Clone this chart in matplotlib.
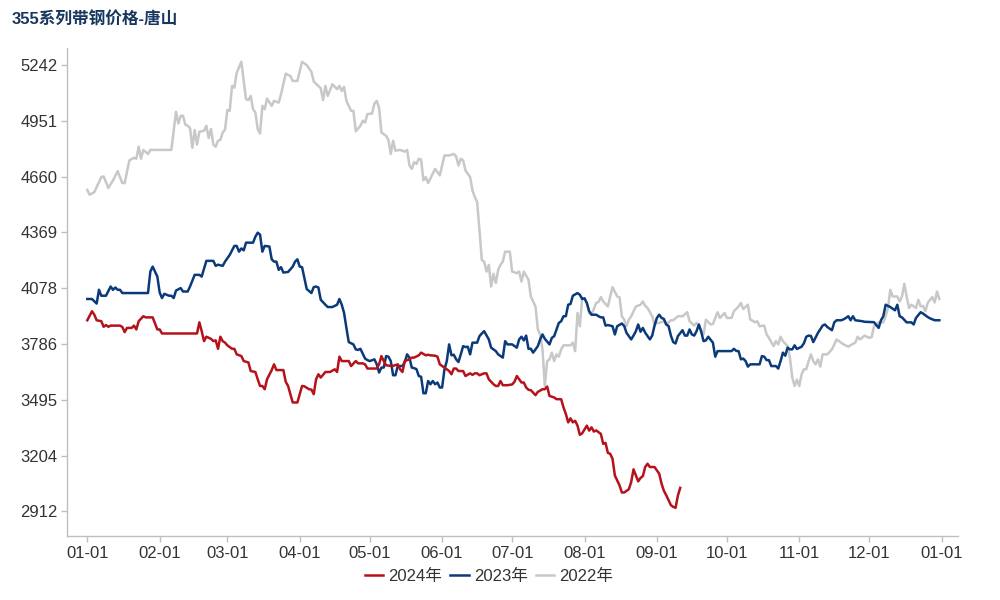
import matplotlib
matplotlib.use("Agg")
import matplotlib.pyplot as plt
import pandas as pd

plt.rcParams['font.family'] = ['Liberation Sans', 'Noto Sans CJK SC', 'DejaVu Sans']

title = "355系列带钢价格-唐山"
series_names = ["2024年", "2023年", "2022年"]
colors = {"2024年": "#B5121B", "2023年": "#0B3A7B", "2022年": "#C8C8C8"}

# x = day offset from 01-01 (calendar of a leap year axis), y = price
days_2024 = [0, 2, 3, 4, 6, 7, 8, 9, 10, 14, 15, 16, 17, 19, 20, 21, 22, 24, 25, 28, 29, 30, 31, 32,
             47, 48, 49, 50, 51, 53, 54, 55, 56, 57, 58, 59, 60, 62, 63, 64, 66, 67, 69, 70, 72, 73,
             74, 75, 76, 77, 79, 80, 81, 84, 85, 86, 88, 90, 92, 93, 95, 96, 97, 98, 99, 100, 102,
             103, 104, 106, 107, 108, 109, 110, 112, 113, 115, 116, 118, 119, 120, 124, 125, 126,
             127, 128, 130, 131, 133, 134, 135, 136, 138, 139, 140, 142, 143, 145, 146, 147, 149,
             150, 151, 153, 154, 155, 156, 157, 158, 159, 161, 162, 164, 165, 166, 167, 168, 170,
             171, 172, 174, 175, 176, 177, 178, 180, 182, 183, 184, 185, 186, 187, 188, 189, 190,
             192, 193, 195, 196, 197, 198, 200, 201, 203, 204, 205, 206, 207, 208, 209, 210, 211,
             212, 214, 215, 216, 217, 218, 220, 221, 222, 223, 224, 225, 226, 228, 229, 230, 232,
             233, 234, 235, 236, 237, 238, 239, 240, 241, 243, 244, 245, 246, 247, 248, 249, 250,
             251, 252, 253, 254]
vals_2024 = [3910, 3957, 3939, 3910, 3905, 3876, 3885, 3876, 3882, 3882, 3875, 3848, 3870, 3870, 3882,
             3862, 3905, 3931, 3925, 3925, 3893, 3862, 3862, 3841,
             3841, 3899, 3853, 3801, 3824, 3813, 3801, 3805, 3761, 3824, 3801, 3793, 3779, 3761, 3761,
             3732, 3723, 3697, 3690, 3645, 3640, 3602,
             3567, 3567, 3550, 3602, 3650, 3680, 3650, 3650, 3589, 3567, 3481, 3481, 3567, 3565, 3550,
             3548, 3524, 3602, 3628, 3611, 3640,
             3640, 3640, 3654, 3640, 3720, 3697, 3697, 3697, 3671, 3697, 3685, 3685, 3680, 3658, 3658,
             3680, 3723,
             3697, 3675, 3672, 3672, 3680, 3654, 3640, 3697, 3706, 3715, 3715, 3727, 3741, 3727, 3730,
             3727, 3725,
             3720, 3680, 3663, 3654, 3645, 3628, 3658, 3658, 3645, 3645, 3619, 3633, 3625, 3633, 3633,
             3623, 3633,
             3633, 3602, 3576, 3567, 3567, 3593, 3571, 3571, 3575, 3589, 3619, 3602, 3585, 3585, 3559,
             3547, 3545,
             3519, 3536, 3550, 3550, 3564, 3515, 3507, 3498, 3498, 3455, 3421, 3377, 3398, 3377, 3385,
             3360, 3312,
             3320, 3360, 3334, 3351, 3329, 3335, 3317, 3265, 3270, 3218, 3213, 3187, 3100, 3048, 3011,
             3011, 3028,
             3066, 3132, 3100, 3069, 3087, 3097, 3144, 3161, 3144, 3144, 3126, 3109, 3057, 3020, 2997,
             2971, 2945,
             2936, 2931, 2995, 3035]

days_2023 = [0, 2, 4, 5, 6, 8, 10, 11, 12, 13, 14, 15, 26, 27, 28, 30, 31, 32, 33, 35, 36, 37, 38, 40,
             41, 43, 44, 46, 48, 49, 51, 54, 55, 56, 58, 59, 61, 63, 64, 65, 66, 67, 68, 71, 72, 73,
             74, 75, 76, 78, 79, 80, 81, 82, 83, 84, 86, 88, 89, 90, 91, 92, 94, 96, 97, 98, 99, 100,
             102, 103, 105, 107, 108, 109, 110, 111, 112, 114, 115, 116, 117, 119, 120, 121, 123,
             124, 125, 126, 127, 128, 129, 130, 131, 132, 133, 135, 136, 137, 138, 139, 140, 141,
             142, 143, 144, 145, 146, 147, 148, 149, 150, 151, 152, 153, 154, 155, 156, 157, 158,
             159, 160, 161, 162, 163, 164, 165, 167, 168, 169, 170, 172, 173, 175, 176, 178, 179,
             180, 182, 184, 185, 186, 187, 188, 189, 190, 191, 193, 194, 195, 196, 198, 199, 200,
             202, 203, 204, 205, 206, 207, 208, 210, 211, 212, 213, 214, 215, 216, 218, 219, 220,
             221, 222, 223, 225, 226, 227, 229, 230, 231, 233, 234, 235, 236, 237, 238, 239, 240,
             241, 242, 243, 244, 245, 246, 247, 248, 249, 250, 251, 252, 253, 255, 256, 257, 258,
             259, 260, 261, 262, 263, 264, 265, 266, 268, 269, 270, 276, 277, 278, 279, 280, 281,
             282, 283, 284, 288, 289, 290, 291, 292, 293, 295, 296, 297, 298, 299, 300, 301, 302,
             303, 304, 306, 307, 308, 309, 310, 311, 313, 315, 316, 317, 319, 320, 321, 323, 324,
             325, 326, 327, 328, 329, 332, 333, 337, 339, 340, 341, 342, 344, 346, 347, 348, 349,
             351, 353, 354, 355, 357, 358, 360, 361, 362, 363, 365]
vals_2023 = [4021, 4021, 3997, 4069, 4038, 4038, 4086, 4069, 4081, 4069, 4069, 4052, 4052, 4164, 4190,
             4138, 4055, 4026, 4048, 4038, 4038, 4026, 4065, 4078,
             4060, 4060, 4086, 4147, 4147, 4138, 4220, 4220, 4194, 4200, 4194, 4216, 4251, 4298, 4298,
             4268, 4285, 4275, 4315, 4315, 4346, 4367,
             4357, 4268, 4298, 4295, 4228, 4216, 4216, 4173, 4187, 4159, 4162, 4190, 4216, 4228, 4190,
             4187, 4073, 4052, 4083, 4086, 4081, 4017,
             3991, 3979, 3979, 3991, 4021, 3991, 3948, 3870, 3796, 3784, 3758, 3755, 3761, 3710, 3702,
             3697, 3706,
             3680, 3637, 3663, 3663, 3723, 3720, 3697, 3623, 3623, 3671, 3671, 3692, 3732, 3715, 3663,
             3660, 3655,
             3619, 3615, 3529, 3529, 3593, 3576, 3593, 3576, 3585, 3559, 3559, 3654, 3697, 3784, 3727,
             3730, 3706,
             3692, 3732, 3775, 3770, 3772, 3732, 3793, 3793, 3827, 3841, 3853, 3810, 3767, 3749, 3732,
             3715, 3801,
             3784, 3784, 3767, 3810, 3824, 3805, 3830, 3761, 3761, 3741, 3775, 3810, 3836, 3813, 3784,
             3818, 3827,
             3896, 3905, 3931, 3931, 3991, 3995, 4038, 4052, 4043, 4021, 4025, 4000, 3957, 3939, 3939,
             3931, 3925,
             3925, 3882, 3885, 3879, 3836, 3879, 3893, 3880, 3844, 3810, 3830, 3853, 3888, 3850, 3870,
             3845, 3827,
             3810, 3830, 3882, 3922, 3939, 3922, 3917, 3888, 3880, 3830, 3796, 3789, 3827, 3858, 3830,
             3830, 3862,
             3836, 3830, 3853, 3888, 3850, 3801, 3805, 3824, 3793, 3720, 3749, 3749, 3761, 3750, 3749,
             3706, 3710,
             3697, 3668, 3680, 3680, 3723, 3720, 3702, 3702, 3671, 3671, 3658, 3697, 3741, 3725, 3767,
             3758, 3758,
             3779, 3760, 3772, 3790, 3824, 3830, 3828, 3796, 3844, 3882, 3888, 3875, 3858, 3899, 3910,
             3910, 3915,
             3922, 3931, 3910, 3931, 3910, 3905, 3902, 3900, 3870, 3910, 3931, 3991, 3979, 3962, 3991,
             3931, 3925,
             3899, 3899, 3888, 3922, 3952, 3945, 3927, 3920, 3915, 3910, 3910]

days_2022 = [0, 1, 3, 6, 7, 9, 11, 13, 15, 16, 18, 20, 21, 22, 23, 24, 26, 27, 36, 38, 39, 40, 41, 42,
             43, 44, 45, 46, 47, 48, 50, 51, 52, 53, 54, 55, 56, 57, 58, 59, 60, 61, 62, 63, 64, 66,
             67, 68, 69, 70, 71, 72, 73, 74, 75, 76, 77, 79, 80, 82, 83, 85, 87, 88, 90, 92, 94, 96,
             97, 100, 101, 102, 103, 105, 107, 108, 109, 110, 111, 113, 114, 115, 117, 118, 119, 120,
             122, 123, 124, 125, 126, 128, 129, 130, 131, 132, 134, 136, 137, 138, 139, 140, 141,
             142, 143, 144, 145, 146, 148, 149, 150, 151, 152, 153, 155, 157, 158, 159, 160, 161,
             162, 164, 165, 166, 167, 168, 169, 170, 171, 172, 173, 174, 175, 176, 177, 178, 179,
             181, 182, 184, 185, 186, 187, 189, 190, 192, 193, 194, 195, 196, 197, 198, 199, 200,
             201, 202, 203, 204, 207, 208, 209, 210, 211, 212, 213, 214, 215, 216, 218, 219, 220,
             221, 223, 224, 225, 227, 228, 229, 230, 231, 232, 233, 234, 235, 237, 238, 239, 240,
             242, 243, 244, 245, 247, 248, 250, 251, 253, 255, 257, 258, 260, 261, 262, 264, 265,
             267, 268, 270, 271, 273, 274, 276, 277, 279, 280, 281, 283, 284, 285, 286, 287, 288,
             290, 291, 292, 294, 295, 296, 297, 298, 300, 301, 302, 303, 304, 305, 306, 307, 308,
             309, 310, 311, 312, 313, 314, 315, 317, 319, 321, 322, 324, 326, 327, 329, 330, 331,
             333, 335, 336, 337, 339, 341, 342, 343, 344, 345, 347, 348, 349, 350, 351, 352, 353,
             355, 356, 357, 358, 359, 360, 362, 363, 364, 365]
vals_2022 = [4590, 4565, 4579, 4657, 4661, 4600, 4640, 4688, 4626, 4626, 4744, 4758, 4753, 4816, 4753,
             4799, 4778, 4799, 4799, 4998, 4937, 4977, 4977, 4931,
             4925, 4913, 4810, 4903, 4827, 4894, 4899, 4925, 4861, 4908, 4827, 4816, 4847, 4851, 4890,
             4905, 5007, 5003, 5133, 5124, 5202, 5259,
             5159, 5064, 5059, 5081, 5012, 4994, 4908, 4885, 5029, 5012, 5067, 5029, 5055, 5046, 5090,
             5197, 5185, 5159, 5159, 5259, 5242, 5207,
             5156, 5121, 5059, 5133, 5081, 5142, 5116, 5133, 5107, 5128, 5055, 5003, 5003, 4896, 4925,
             4951, 4942, 4986,
             4989, 5041, 5055, 5017, 4890, 4873, 4851, 4778, 4847, 4795, 4799, 4790, 4799, 4718, 4700,
             4735, 4726,
             4753, 4748, 4640, 4657, 4626, 4675, 4700, 4683, 4666, 4718, 4770, 4770, 4778, 4765, 4718,
             4753, 4744,
             4692, 4657, 4588, 4553, 4527, 4380, 4225, 4216, 4164, 4199, 4086, 4152, 4104, 4173, 4199,
             4216, 4268,
             4268, 4164, 4156, 4164, 4112, 4164, 4121, 4034, 3982, 3862, 3836, 3758, 3567, 3697, 3706,
             3741, 3697,
             3732, 3720, 3758, 3779, 3779, 3793, 3749, 3948, 3879, 4026, 4020, 4000, 3948, 3939, 4000,
             4005, 4031,
             4008, 3982, 4034, 4083, 4034, 4030, 3931, 3913, 3879, 3913, 3931, 3957, 3982, 3991, 4008,
             3985, 3974,
             3931, 3888, 3896, 3896, 3905, 3888, 3910, 3910, 3931, 3931, 3952, 3905, 3882, 3896, 3879,
             3836, 3913,
             3888, 3890, 3952, 3922, 3948, 3922, 3922, 3957, 3982, 4000, 3969, 3991, 3913, 3908, 3899,
             3905, 3879,
             3882, 3836, 3818, 3775, 3801, 3784, 3824, 3801, 3775, 3715, 3611, 3567, 3600, 3567, 3628,
             3654, 3654,
             3697, 3732, 3697, 3680, 3706, 3668, 3732, 3732, 3758, 3810, 3801, 3784, 3772, 3780, 3793,
             3824, 3810,
             3830, 3818, 3822, 3879, 3899, 3899, 3931, 3974, 4069, 4034, 4034, 4008, 4034, 4100, 4034,
             3974, 3991,
             3974, 4017, 3982, 3985, 3957, 4000, 4031, 4003, 4060, 4021]

tick_labels_x = ["01-01", "02-01", "03-01", "04-01", "05-01", "06-01", "07-01",
                 "08-01", "09-01", "10-01", "11-01", "12-01", "01-01"]
ytick_values = [2912, 3204, 3495, 3786, 4078, 4369, 4660, 4951, 5242]

# month-start positions on a leap-year calendar axis
month_starts = pd.date_range("2024-01-01", "2025-01-01", freq="MS")
xtick_pos = [(d - pd.Timestamp("2024-01-01")).days for d in month_starts]

fig = plt.figure(figsize=(10, 6), dpi=100)
ax = fig.add_axes([0.067, 0.107, 0.891, 0.813])

lw = 1.8
l22, = ax.plot(days_2022, vals_2022, color=colors["2022年"], lw=lw, label="2022年", zorder=2)
l23, = ax.plot(days_2023, vals_2023, color=colors["2023年"], lw=lw, label="2023年", zorder=3)
l24, = ax.plot(days_2024, vals_2024, color=colors["2024年"], lw=lw, label="2024年", zorder=4)

ax.set_xlim(-8.7, 373)
ax.set_ylim(2785, 5331)

ax.set_xticks(xtick_pos)
ax.set_xticklabels(tick_labels_x)
ax.set_yticks(ytick_values)
ax.set_yticklabels([str(v) for v in ytick_values])

for s in ["top", "right"]:
    ax.spines[s].set_visible(False)
for s in ["left", "bottom"]:
    ax.spines[s].set_color("#BFBFBF")
    ax.spines[s].set_linewidth(1.0)

ax.tick_params(axis="both", colors="#BFBFBF", labelcolor="#333333", labelsize=12,
               length=4, width=1.0, direction="out")
ax.tick_params(axis="y", pad=3)
ax.tick_params(axis="x", pad=3)

fig.text(0.012, 0.968, title, fontsize=12, fontweight="bold", color="#17375E",
         ha="left", va="center")

fig.legend(handles=[l24, l23, l22], labels=series_names, loc="center",
           bbox_to_anchor=(0.489, 0.04), ncol=3, frameon=False, fontsize=12,
           handlelength=1.1, handletextpad=0.3, columnspacing=0.5,
           labelcolor="#333333")

fig.savefig("out.png", dpi=100)
